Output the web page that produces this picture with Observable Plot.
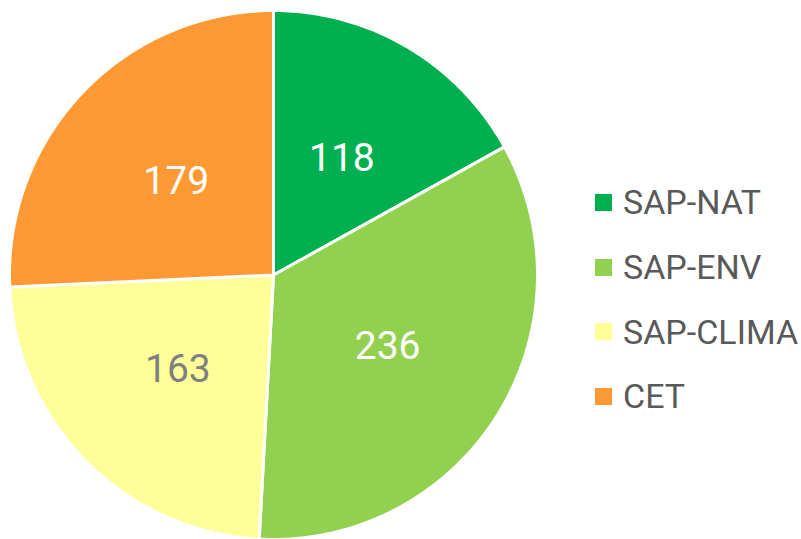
<!DOCTYPE html>
<html>
<head>
<meta charset="utf-8">
<script src="https://cdn.jsdelivr.net/npm/d3@7"></script>
<script src="https://cdn.jsdelivr.net/npm/@observablehq/plot@0.6"></script>
<style>
  html, body { margin: 0; padding: 0; background: #fff; }
  #wrap { position: relative; width: 801px; height: 539px; font-family: Roboto, "Liberation Sans", sans-serif; }
  #legend { position: absolute; left: 595px; top: 170px; }
  .row { display: flex; align-items: center; height: 64.7px; }
  .sw { width: 17px; height: 17px; margin-right: 11px; }
  .lab { font-size: 34px; color: #595959; }
</style>
</head>
<body>
<div id="wrap"></div>
<script>
const categories = ["SAP-NAT", "SAP-ENV", "SAP-CLIMA", "CET"];
const values = [118, 236, 163, 179];
const colors = ["#00B050", "#92D050", "#FFFF99", "#FF9933"];
const labelColors = ["#ffffff", "#ffffff", "#808080", "#ffffff"];

const data = categories.map((c, i) => ({key: c, value: values[i], color: colors[i], labelColor: labelColors[i]}));
const arcs = d3.pie().sort(null).value(d => d.value)(data);

// polygon points for each slice (unit radius, y up)
const pts = [];
for (const a of arcs) {
  pts.push({key: a.data.key, x: 0, y: 0});
  const n = Math.max(2, Math.ceil((a.endAngle - a.startAngle) / 0.01));
  for (let k = 0; k <= n; k++) {
    const t = a.startAngle + (a.endAngle - a.startAngle) * k / n;
    pts.push({key: a.data.key, x: Math.sin(t), y: Math.cos(t)});
  }
}
const labels = arcs.map(a => {
  const m = (a.startAngle + a.endAngle) / 2;
  return {key: a.data.key, value: a.data.value, x: 0.51 * Math.sin(m), y: 0.51 * Math.cos(m), fill: a.data.labelColor};
});

const chart = Plot.plot({
  width: 801,
  height: 539,
  x: {domain: [-1, 1], range: [9, 537], axis: null},
  y: {domain: [-1, 1], range: [539, 10], axis: null},
  color: {domain: categories, range: colors},
  style: {fontFamily: "Roboto, 'Liberation Sans', sans-serif", background: "white"},
  marks: [
    Plot.line(pts, {x: "x", y: "y", z: "key", fill: "key", stroke: "white", strokeWidth: 3, curve: "linear-closed", strokeLinejoin: "round"}),
    Plot.text(labels, {x: "x", y: "y", text: d => String(d.value), fill: d => d.fill, fontSize: 39, textAnchor: "middle", lineAnchor: "middle"})
  ]
});
document.getElementById("wrap").appendChild(chart);

const legend = document.createElement("div");
legend.id = "legend";
categories.forEach((c, i) => {
  const row = document.createElement("div");
  row.className = "row";
  row.innerHTML = `<div class="sw" style="background:${colors[i]}"></div><div class="lab">${c}</div>`;
  legend.appendChild(row);
});
document.getElementById("wrap").appendChild(legend);
</script>
</body>
</html>
